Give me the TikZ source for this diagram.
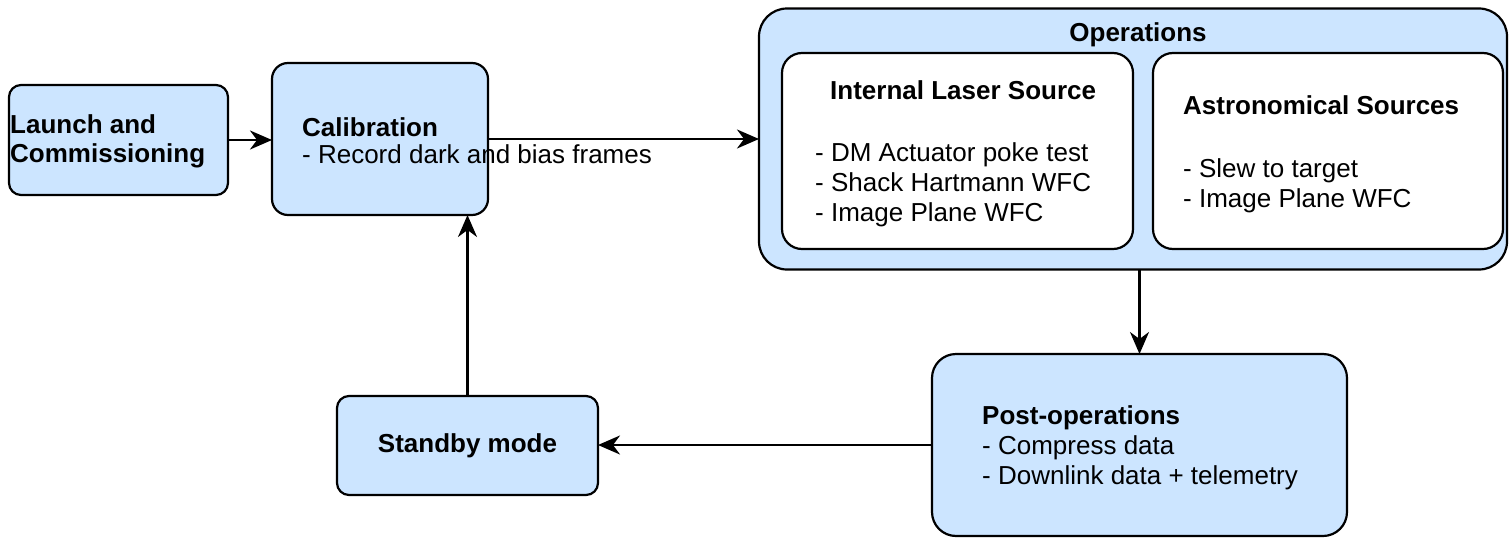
\documentclass[tikz,border=0pt]{standalone}
\usepackage{fontspec}
\setmainfont{Liberation Sans}
\usetikzlibrary{arrows.meta}
\definecolor{boxblue}{RGB}{204,229,255}
\begin{document}
\begin{tikzpicture}[x=1pt,y=-1pt,
  box/.style={draw=black, line width=2.2pt, fill=boxblue, rounded corners=#1, inner sep=0pt, outer sep=0pt},
  box/.default=12pt,
  wbox/.style={box=#1, fill=white},
  txt/.style={anchor=base west, inner sep=0pt, font=\fontsize{26}{30}\selectfont},
  ttl/.style={anchor=base west, inner sep=0pt, font=\bfseries\fontsize{26}{30}\selectfont},
  arr/.style={line width=2.4pt, -{Stealth[length=22pt 0,width=19pt 0,inset=7pt 0]}}
]
\fill[white] (0,0) rectangle (1509,538);
\useasboundingbox (0,0) rectangle (1509,538);

% boxes
\node[box=12pt, minimum width=219pt, minimum height=110pt] (launch) at (118.5,140) {};
\node[box=16pt, minimum width=216pt, minimum height=152pt] (calib) at (380,139) {};
\node[box=28pt, minimum width=748pt, minimum height=261pt] (ops) at (1133,139) {};
\node[wbox=20pt, minimum width=351pt, minimum height=196pt] (ils) at (957.5,151) {};
\node[wbox=20pt, minimum width=350pt, minimum height=196pt] (astro) at (1328,151) {};
\node[box=24pt, minimum width=415pt, minimum height=182pt] (post) at (1139.5,445) {};
\node[box=12pt, minimum width=261pt, minimum height=99pt,
      font=\bfseries\fontsize{26}{30}\selectfont] (standby) at (467.5,445.5) {Standby mode};

% texts
\node[ttl] (launchA) at (10,133) {Launch and};
\node[ttl] (launchB) at (10,162) {Commissioning};
\node[ttl] (calibT) at (302,136) {Calibration};
\node[txt] (calibA) at (302,163) {- Record dark and bias frames};
\node[ttl, anchor=base] (opsT) at (1138,41) {Operations};
\node[ttl] (ilsT) at (830,99) {Internal Laser Source};
\node[txt] (ilsA) at (815,161) {- DM Actuator poke test};
\node[txt] (ilsB) at (815,191) {- Shack Hartmann WFC};
\node[txt] (ilsC) at (815,221) {- Image Plane WFC};
\node[ttl] (astT) at (1183,114) {Astronomical Sources};
\node[txt] (astA) at (1183,177) {- Slew to target};
\node[txt] (astB) at (1183,207) {- Image Plane WFC};
\node[ttl] (postT) at (982,424) {Post-operations};
\node[txt] (postA) at (982,454) {- Compress data};
\node[txt] (postB) at (982,484) {- Downlink data + telemetry};

% connectors
\draw[arr] (launch.east) -- (launch.east -| calib.west);
\draw[arr] (calib.east) -- (calib.east -| ops.west);
\draw[arr] (post.north |- ops.south) -- (post.north);
\draw[arr] (post.west) -- (post.west -| standby.east);
\draw[arr] (standby.north) -- (standby.north |- calib.south);
\end{tikzpicture}
\end{document}
